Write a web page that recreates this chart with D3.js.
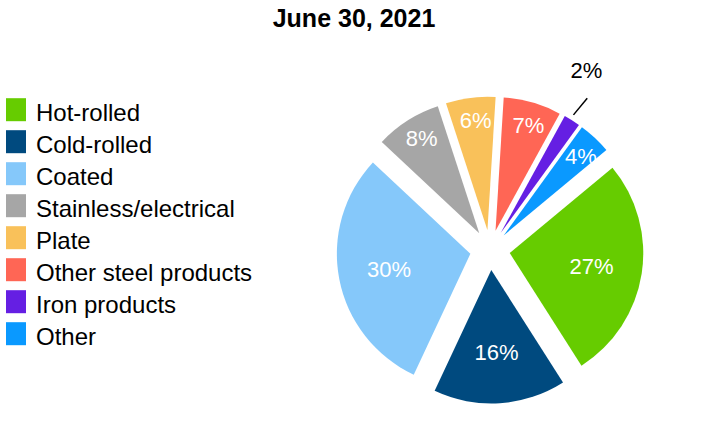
<!DOCTYPE html>
<html>
<head>
<meta charset="utf-8">
<script src="https://cdn.jsdelivr.net/npm/d3@7"></script>
<style>
  body { margin: 0; background: #fff; }
  svg text { font-family: "Liberation Sans", Arial, sans-serif; }
</style>
</head>
<body>
<div id="chart"></div>
<script>
// Chart data
let categories = ['Hot-rolled', 'Cold-rolled', 'Coated', 'Stainless/electrical', 'Plate', 'Other steel products', 'Iron products', 'Other'];
let shares = [27, 16, 30, 8, 6, 7, 2, 4];
let colors = ['#66cc00', '#004a7f', '#85c8fa', '#a6a6a6', '#f9c15a', '#ff6655', '#651fe3', '#0a99ff'];
let title = 'June 30, 2021';

let width = 710, height = 440;
let svg = d3.select('#chart').append('svg')
  .attr('width', width)
  .attr('height', height);

// Title
svg.append('text')
  .attr('x', 354)
  .attr('y', 26.5)
  .attr('text-anchor', 'middle')
  .style('font-size', '25px')
  .style('font-weight', 'bold')
  .text(title);

// Legend
let legend = svg.append('g').attr('transform', 'translate(6,0)');
categories.forEach(function(name, i) {
  let y = 120.7 + i * 32;
  legend.append('rect')
    .attr('x', 0)
    .attr('y', y - 22.5)
    .attr('width', 20)
    .attr('height', 23)
    .attr('fill', colors[i]);
  legend.append('text')
    .attr('x', 30)
    .attr('y', y)
    .style('font-size', '24px')
    .attr('fill', '#000')
    .text(name);
});

// Pie
let cx = 490, cy = 250, r = 133.5, explode = 20;
let start = (0.13 * 360 + 3.5) * Math.PI / 180;
let pie = d3.pie().sort(null).value(d => d)
  .startAngle(start).endAngle(start + 2 * Math.PI);
let arcs = pie(shares);
let arc = d3.arc().innerRadius(0).outerRadius(r);

let g = svg.append('g').attr('transform', 'translate(' + cx + ',' + cy + ')');

function polar(a, d) {
  return [Math.sin(a) * d, -Math.cos(a) * d];
}

arcs.forEach(function(a, i) {
  let mid = (a.startAngle + a.endAngle) / 2;
  let off = polar(mid, explode);
  let slice = g.append('g').attr('transform', 'translate(' + off[0] + ',' + off[1] + ')');
  slice.append('path')
    .attr('d', arc(a))
    .attr('fill', colors[i]);

  if (a.value <= 2) {
    // outside label with leader line
    let p = polar(mid - 0.08, r * 1.38);
    let s = polar(mid - 0.012, r * 1.04);
    let e = polar(mid + 0.007, r * 1.2);
    slice.append('line')
      .attr('x1', s[0]).attr('y1', s[1])
      .attr('x2', e[0]).attr('y2', e[1])
      .attr('stroke', '#000')
      .attr('stroke-width', 1.5);
    slice.append('text')
      .attr('x', p[0]).attr('y', p[1])
      .attr('dy', '0.36em')
      .attr('text-anchor', 'middle')
      .style('font-size', '22px')
      .attr('fill', '#000')
      .text(a.value + '%');
  } else {
    let big = a.value >= 10;
    let p = polar(mid + (big ? 0 : 0.02), big ? r * 0.62 : r * 0.83);
    slice.append('text')
      .attr('x', p[0]).attr('y', p[1])
      .attr('dy', '0.36em')
      .attr('text-anchor', 'middle')
      .style('font-size', '22px')
      .attr('fill', '#fff')
      .text(a.value + '%');
  }
});
</script>
</body>
</html>
